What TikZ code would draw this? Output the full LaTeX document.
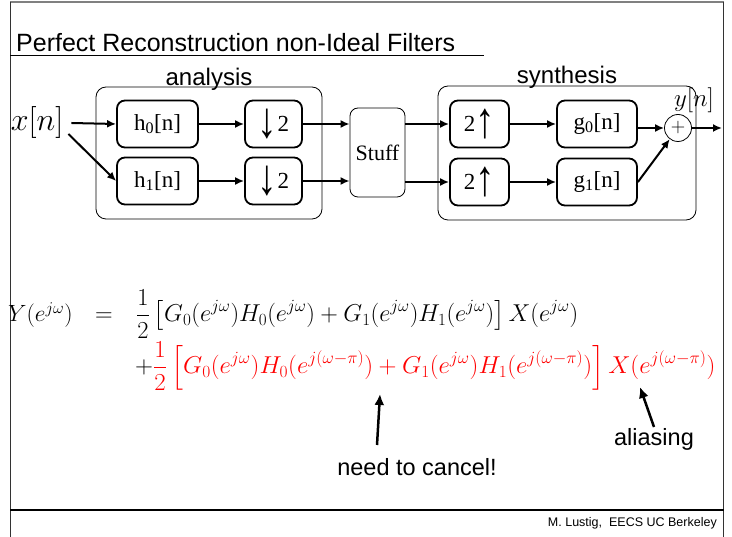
\RequirePackage{fix-cm}
\documentclass[tikz,border=0pt]{standalone}
\usepackage{amsmath}
\usepackage{fontspec}
\setmainfont{Liberation Serif}
\setsansfont{Liberation Sans}
\usetikzlibrary{arrows.meta}

% large rate-change arrows used inside the blocks
\newcommand{\dnarrow}{\raisebox{-6pt}{\scalebox{1.7}[2.2]{↓}}}
\newcommand{\uparrowbig}{\raisebox{-6pt}{\scalebox{1.7}[2.2]{↑}}}

\begin{document}
\begin{tikzpicture}[x=1pt,y=-1pt,
  blk/.style={draw, line width=1.8pt, rounded corners=8pt, minimum width=#1,
    minimum height=47pt, inner sep=0pt, font=\fontsize{23}{26}\selectfont},
  grp/.style={draw, line width=0.8pt, rounded corners=10pt, inner sep=0pt},
  lbl/.style={font=\sffamily\fontsize{24}{28}\selectfont, inner sep=0pt},
  sig/.style={-{Latex[length=9pt,width=8pt]}, line width=2pt},
  note/.style={font=\sffamily\fontsize{23.5}{28}\selectfont, inner sep=0pt},
  pointer/.style={-{Latex[length=11pt,width=10pt]}, line width=2.5pt},
]
\useasboundingbox (0,0) rectangle (732,537);

% slide frame
\draw[gray, line width=2pt] (10,2) -- (724,2);
\draw[line width=1pt, black!80] (10,2) -- (10,537);
\draw[line width=1.2pt, black!80] (723.5,2) -- (723.5,537);
\draw[line width=1.5pt] (10,510) -- (723.5,510);

% title
\node[anchor=base west, inner sep=0pt, font=\sffamily\fontsize{25}{30}\selectfont]
  (title) at (16,52) {Perfect Reconstruction non-Ideal Filters};
\draw[line width=1pt] (10,55.5) -- (484,55.5);

% group frames
\node[grp, minimum width=226pt, minimum height=132pt] (ana) at (209,153) {};
\node[grp, minimum width=258pt, minimum height=134pt] (syn) at (567,153) {};
\node[lbl, anchor=base] (analbl) at ([yshift=1pt]ana.north) {analysis};
\node[lbl, anchor=base] (synlbl) at ([yshift=2pt]syn.north) {synthesis};

% input
\node[inner sep=0pt, font=\fontsize{32}{36}\selectfont] (xn) at (37,123) {$x[n]$};

% analysis bank
\node[blk=81pt] (h0) at (157.5,124) {h\textsubscript{0}[n]};
\node[blk=81pt] (h1) at (157.5,181) {h\textsubscript{1}[n]};
\node[blk=57pt] (d0) at (273.5,124) {\dnarrow 2};
\node[blk=57pt] (d1) at (273.5,181) {\dnarrow 2};

% middle block
\node[draw, line width=0.8pt, rounded corners=8pt, minimum width=55pt,
  minimum height=89pt, inner sep=0pt, font=\fontsize{22}{26}\selectfont]
  (stuff) at (377.5,152.5) {Stuff};

% synthesis bank
\node[blk=59pt] (u0) at (479.5,124) {2\uparrowbig};
\node[blk=59pt] (u1) at (479.5,182) {2\uparrowbig};
\node[blk=80pt] (g0) at (597,124) {g\textsubscript{0}[n]};
\node[blk=80pt] (g1) at (597,182) {g\textsubscript{1}[n]};

% adder and output
\node[draw, circle, line width=0.8pt, minimum size=27pt, inner sep=0pt,
  font=\fontsize{20}{22}\selectfont] (add) at (678,128) {$+$};
\node[inner sep=0pt, font=\fontsize{25}{28}\selectfont] (yn) at (694,100) {$y[n]$};
\coordinate (out) at (722,128);

% connections
\draw[sig] ([xshift=8pt]xn.east) -- (h0.west);
\draw[sig] ([xshift=5pt,yshift=-11pt]xn.east) -- (h1.west);
\draw[sig] (h0) -- (d0);
\draw[sig] (h1) -- (d1);
\draw[sig] (d0.east) -- (d0.east -| stuff.west);
\draw[sig] (d1.east) -- (d1.east -| stuff.west);
\draw[sig] (stuff.east |- u0.west) -- (u0.west);
\draw[sig] (stuff.east |- u1.west) -- (u1.west);
\draw[sig] (u0) -- (g0);
\draw[sig] (u1) -- (g1);
\draw[sig] (g0.east |- add.west) -- (add.west);
\draw[sig] (g1.east) -- (add);
\draw[sig] (add.east) -- (out);

% frequency-domain output
\begin{scope}[every node/.style={inner sep=0pt, font=\fontsize{24.4}{28}\selectfont}]
\node[anchor=base west, font=\fontsize{23.5}{26}\selectfont] (lhs) at (8,322) {$Y(e^{j\omega})$};
\node[anchor=base] (eq) at (104,322) {$=$};
\node[anchor=base west] (line1) at (136,322)
  {$\displaystyle \frac{1}{2}\,\bigl[G_0(e^{j\omega})H_0(e^{j\omega})+G_1(e^{j\omega})H_1(e^{j\omega})\bigr]\,X(e^{j\omega})$};
\node[anchor=base west] (line2) at (135,374)
  {\scalebox{1.02}[1]{$\displaystyle +\color{red}\frac{1}{2}\left[G_0(e^{j\omega})H_0(e^{j(\omega-\pi)})+G_1(e^{j\omega})H_1(e^{j(\omega-\pi)})\right]X(e^{j(\omega-\pi)})$}};
\end{scope}

% annotations
\node[note] (cancel) at (417,467) {need to cancel!};
\node[note] (alias) at (654,439) {aliasing};
\coordinate (cancelTail) at (377,445);
\coordinate (cancelTip) at (380,394);
\coordinate (aliasTail) at (654,427);
\coordinate (aliasTip) at (640,387);
\draw[pointer] (cancelTail) -- (cancelTip);
\draw[pointer] (aliasTail) -- (aliasTip);

% footer
\node[anchor=base east, inner sep=0pt, font=\sffamily\fontsize{12.5}{14}\selectfont]
  (footer) at (717,527) {M. Lustig,\ \ EECS UC Berkeley};
\end{tikzpicture}
\end{document}
